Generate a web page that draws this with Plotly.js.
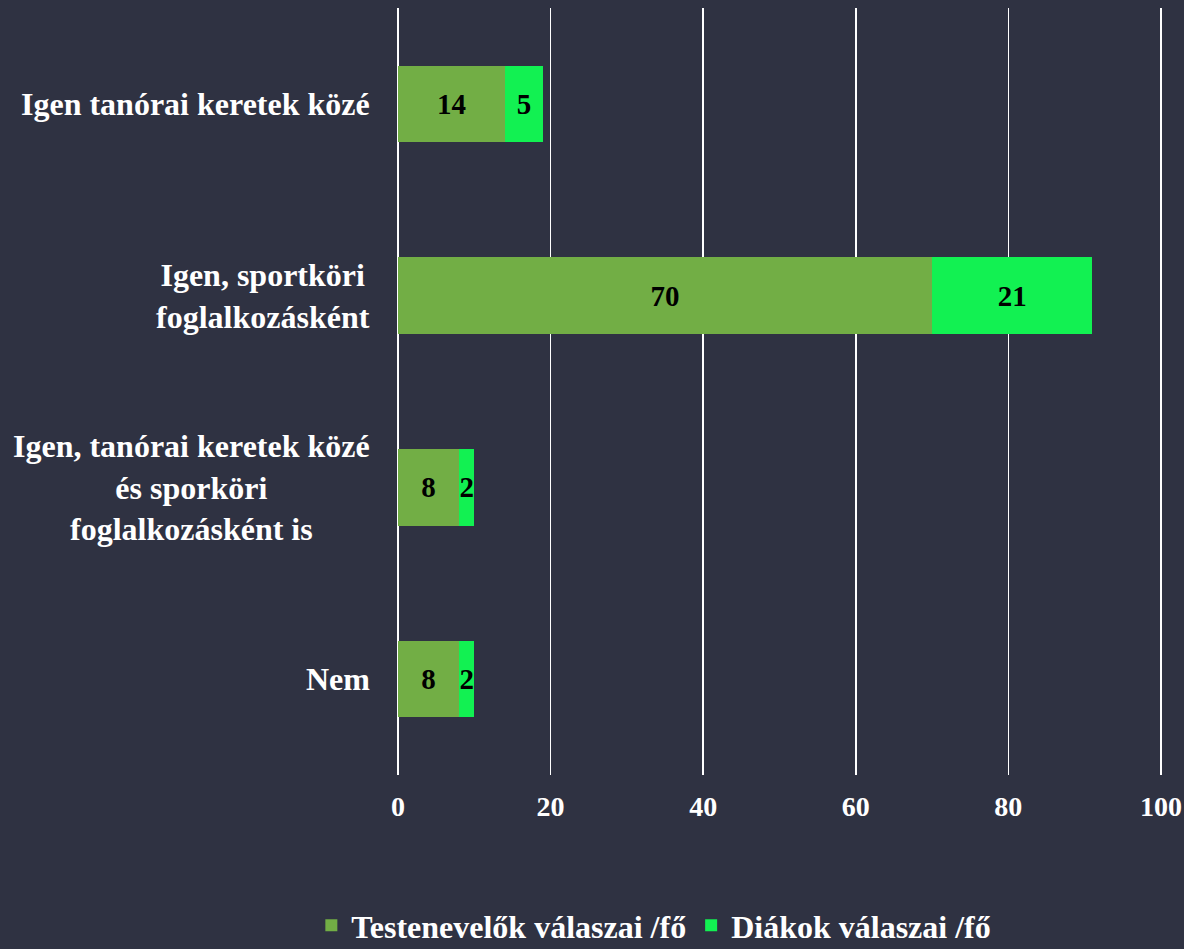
<!DOCTYPE html>
<html>
<head>
<meta charset="utf-8">
<script src="https://cdn.plot.ly/plotly-3.0.1.min.js"></script>
<style>
html,body{margin:0;padding:0;background:#2f3242;}
#chart{width:1184px;height:949px;}
</style>
</head>
<body>
<div id="chart"></div>
<script>
const categories = [
  "Igen tanórai keretek közé",
  "Igen, sportköri<br>foglalkozásként",
  "Igen, tanórai keretek közé<br>és sporköri<br>foglalkozásként is",
  "Nem"
];
const seriesNames = ["Testenevelők válaszai /fő", "Diákok válaszai /fő"];
const teachers = [14, 70, 8, 8];
const students = [5, 21, 2, 2];
const xTicks = [0, 20, 40, 60, 80, 100];

const font = "'Liberation Serif', 'Times New Roman', serif";
const catIdx = categories.map((c, i) => i);

const barText = {family: font, size: 29, color: "#000000", weight: "bold"};
const traces = [
  {
    type: "bar", orientation: "h", name: seriesNames[0],
    y: catIdx, x: teachers, text: teachers.map(String),
    textposition: "inside", insidetextanchor: "middle", constraintext: "none",
    textfont: barText, insidetextfont: barText,
    marker: {color: "#72ae45"},
    hoverinfo: "x+name"
  },
  {
    type: "bar", orientation: "h", name: seriesNames[1],
    y: catIdx, x: students, text: students.map(String),
    textposition: "inside", insidetextanchor: "middle", constraintext: "none",
    textfont: barText, insidetextfont: barText,
    marker: {color: "#12f152"},
    hoverinfo: "x+name"
  }
];

const annotations = categories.map((c, i) => ({
  xref: "paper", yref: "y", x: 0, y: i, xanchor: "right", yanchor: "middle",
  xshift: -26, text: "<b>" + c + "</b>", showarrow: false, align: "center",
  font: {family: font, size: 32, color: "#ffffff"}
}));

const layout = {
  width: 1184, height: 949,
  paper_bgcolor: "#2f3242", plot_bgcolor: "#2f3242",
  barmode: "stack", bargap: 0.6,
  margin: {l: 398, r: 20, t: 8, b: 174, autoexpand: false},
  font: {family: font, color: "#ffffff"},
  xaxis: {
    range: [0, 100.4], tickvals: xTicks, ticktext: xTicks.map(v => "<b>" + v + "</b>"),
    showgrid: true, gridcolor: "#ffffff", gridwidth: 1.5,
    zeroline: true, zerolinecolor: "#ffffff", zerolinewidth: 1.5,
    showline: false, ticks: "",
    tickfont: {family: font, size: 28, color: "#ffffff"}, ticklabelstandoff: 12
  },
  yaxis: {
    autorange: false, showticklabels: false, showgrid: false,
    zeroline: false, showline: false, ticks: "", range: [3.5, -0.5]
  },
  showlegend: true,
  legend: {
    orientation: "h", x: 0.334, xanchor: "center", y: -0.196, yanchor: "middle",
    font: {family: font, size: 32, color: "#ffffff", weight: "bold"},
    bgcolor: "rgba(0,0,0,0)", traceorder: "normal", itemwidth: 30
  },
  annotations: annotations
};

Plotly.newPlot("chart", traces, layout, {displayModeBar: false, staticPlot: true});
</script>
</body>
</html>
